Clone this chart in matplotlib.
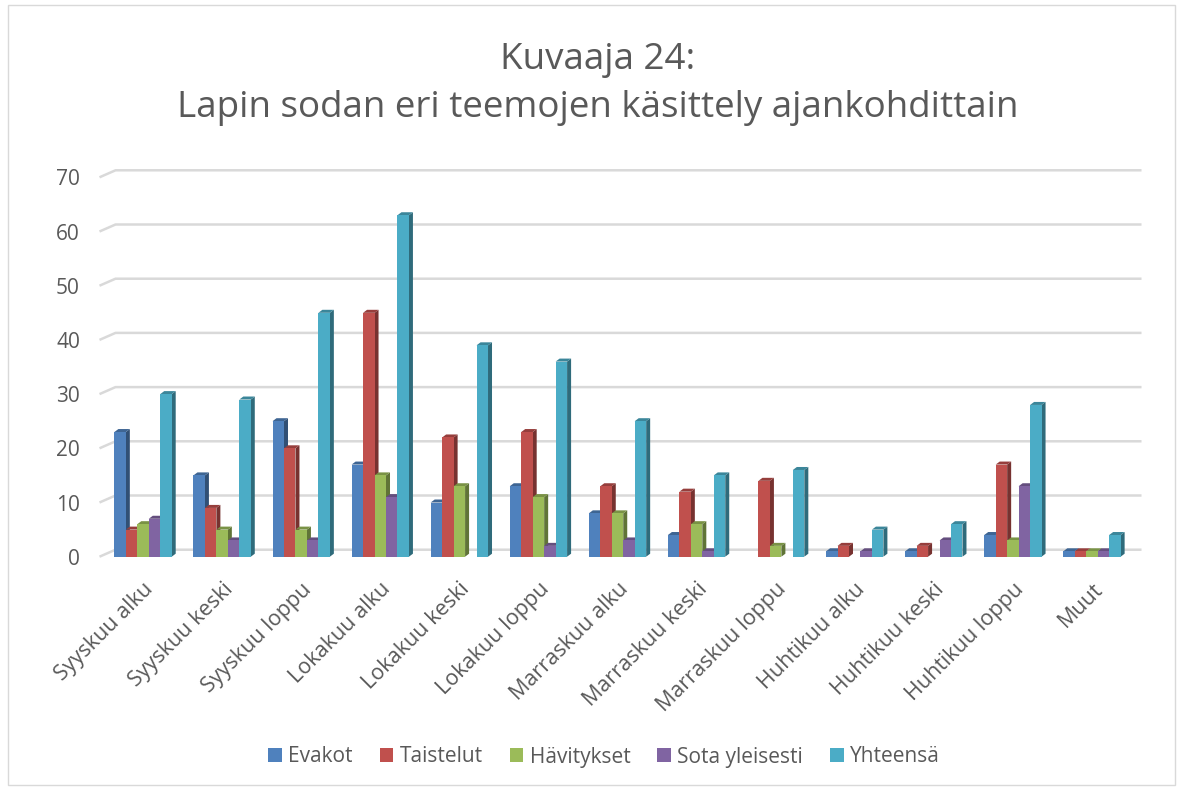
import matplotlib
matplotlib.use("Agg")
import matplotlib.pyplot as plt
from matplotlib.patches import Polygon, Rectangle
import matplotlib.colors as mcolors
import numpy as np

categories = ["Syyskuu alku", "Syyskuu keski", "Syyskuu loppu", "Lokakuu alku",
              "Lokakuu keski", "Lokakuu loppu", "Marraskuu alku", "Marraskuu keski",
              "Marraskuu loppu", "Huhtikuu alku", "Huhtikuu keski", "Huhtikuu loppu", "Muut"]
evakot = [23, 15, 25, 17, 10, 13, 8, 4, 0, 1, 1, 4, 1]
taistelut = [5, 9, 20, 45, 22, 23, 13, 12, 14, 2, 2, 17, 1]
havitykset = [6, 5, 5, 15, 13, 11, 8, 6, 2, 0, 0, 3, 1]
sota_yleisesti = [7, 3, 3, 11, 0, 2, 3, 1, 0, 1, 3, 13, 1]
yhteensa = [30, 29, 45, 63, 39, 36, 25, 15, 16, 5, 6, 28, 4]
series_names = ["Evakot", "Taistelut", "Hävitykset", "Sota yleisesti", "Yhteensä"]
series = [evakot, taistelut, havitykset, sota_yleisesti, yhteensa]
colors = ["#4F81BD", "#C0504D", "#9BBB59", "#8064A2", "#4BACC6"]
yticks = [0, 10, 20, 30, 40, 50, 60, 70]

plt.rcParams['font.family'] = ['Open Sans', 'DejaVu Sans']

W, H = 1182, 790
fig = plt.figure(figsize=(W / 100, H / 100), dpi=100)

# axes geometry in pixels
ax_l, ax_r = 103.5, 1131.5
ax_bot, ax_top = 556.7, 177.3
ax = fig.add_axes([ax_l / W, (H - ax_bot) / H, (ax_r - ax_l) / W, (ax_bot - ax_top) / H])
n = len(categories)
xmin, xmax = -0.5, n - 0.5
ymin, ymax = 0, 70
ax.set_xlim(xmin, xmax)
ax.set_ylim(ymin, ymax)
ux = (xmax - xmin) / (ax_r - ax_l)   # data units per px
uy = (ymax - ymin) / (ax_bot - ax_top)

# gridlines on back wall with perspective diagonal
gdx, gdy = 12 * ux, 7 * uy
for v in yticks:
    ax.plot([xmin - 4 * ux, xmin + gdx, xmax + 10 * ux], [v, v + gdy, v + gdy],
            color="#D9D9D9", lw=1.8, clip_on=False, zorder=1, solid_capstyle='butt')

# 3D-ish bars
w = 0.145
bdx, bdy = 4 * ux, 3 * uy
x = np.arange(n)
for j, (vals, c, name) in enumerate(zip(series, colors, series_names)):
    xs = x + (j - 2) * w
    rgb = np.array(mcolors.to_rgb(c))
    side = tuple(rgb * 0.62)
    top = tuple(rgb * 0.78)
    ax.bar(xs, vals, width=w, color=c, linewidth=0, zorder=3 + j, label=name)
    for xi, h in zip(xs, vals):
        if h <= 0:
            continue
        xl, xr = xi - w / 2, xi + w / 2
        ax.add_patch(Polygon([(xr, 0), (xr + bdx, bdy), (xr + bdx, h + bdy), (xr, h)],
                             closed=True, facecolor=side, edgecolor='none', zorder=2.5 + j))
        ax.add_patch(Polygon([(xl, h), (xl + bdx, h + bdy), (xr + bdx, h + bdy), (xr, h)],
                             closed=True, facecolor=top, edgecolor='none', zorder=2.5 + j))

for s in ax.spines.values():
    s.set_visible(False)
ax.set_yticks(yticks)
ax.set_yticklabels([str(v) for v in yticks], fontsize=15, color="#595959")
ax.tick_params(axis='y', length=0, pad=17)
ax.set_xticks(x)
ax.set_xticklabels(categories, rotation=45, ha='right', rotation_mode='anchor',
                   fontsize=15.5, color="#595959")
ax.tick_params(axis='x', length=0, pad=16)

tx = 598 / W
fig.text(tx, 1 - 60 / H, "Kuvaaja 24:", ha='center', va='center', fontsize=26.5, color="#595959")
fig.text(tx, 1 - 108 / H, "Lapin sodan eri teemojen käsittely ajankohdittain",
         ha='center', va='center', fontsize=26.5, color="#595959")

handles, labels = ax.get_legend_handles_labels()
leg = fig.legend(handles, labels, loc='center', bbox_to_anchor=(604 / W, 1 - 757 / H), ncol=5,
                 frameon=False, fontsize=15, handlelength=0.65, handleheight=0.65,
                 columnspacing=1.3, handletextpad=0.3, labelcolor="#595959")

fig.add_artist(Rectangle((8 / W, 1 - 785 / H), (1175 - 8) / W, (785 - 5) / H,
                         transform=fig.transFigure, fill=False, edgecolor="#D9D9D9", lw=1))

fig.savefig("out.png", dpi=100)
